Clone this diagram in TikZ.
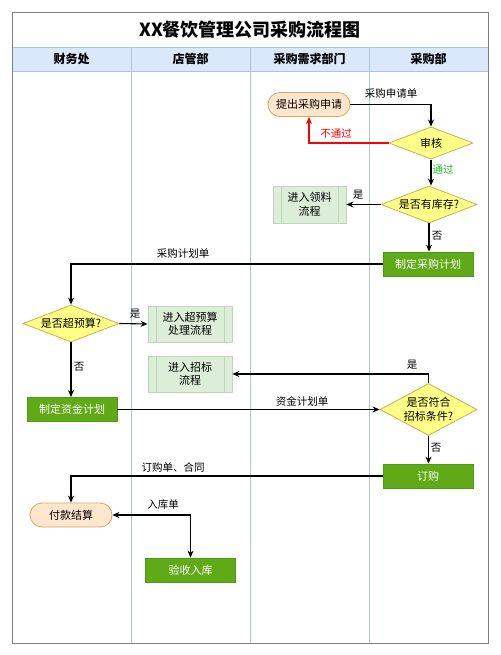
\documentclass[tikz,border=0pt]{standalone}
\usepackage{fontspec}
\setmainfont{Noto Sans CJK SC}
\usetikzlibrary{shapes.geometric,shapes.misc,arrows.meta}
\definecolor{hdrblue}{HTML}{DAE8FC}
\definecolor{lanegray}{HTML}{B4C2D6}
\definecolor{peachfill}{HTML}{FFE6CC}
\definecolor{peachline}{HTML}{D7A95B}
\definecolor{yelfill}{HTML}{FFFF88}
\definecolor{yelline}{HTML}{C2B54A}
\definecolor{procfill}{HTML}{DCEDD8}
\definecolor{procline}{HTML}{BDD5B8}
\definecolor{taskfill}{HTML}{60A917}
\definecolor{taskline}{HTML}{4F9A14}
\definecolor{passgreen}{HTML}{22BB22}
\begin{document}
\begin{tikzpicture}[x=1pt, y=-1pt, font=\fontsize{10.5}{13}\selectfont,
		every path/.style={line width=1.1pt},
		>={Stealth[length=7pt,width=6pt]},
		terminal/.style={rounded rectangle, fill=peachfill, draw=peachline, line width=0.8pt, minimum width=82pt, minimum height=24pt, inner sep=0pt, font=\fontsize{11}{13.5}\selectfont},
		decision/.style={diamond, fill=yelfill, draw=yelline, line width=0.8pt, inner sep=0pt, align=center, font=\fontsize{11}{13.5}\selectfont},
		task/.style={rectangle, fill=taskfill, draw=taskline, line width=0.8pt, text=white, minimum width=90pt, minimum height=24pt, inner sep=0pt, font=\fontsize{11}{13.5}\selectfont},
		subproc/.style={rectangle, fill=procfill, draw=procline, line width=0.8pt, minimum width=84pt, minimum height=36pt, inner sep=0pt, align=center, font=\fontsize{11}{13.5}\selectfont,
			path picture={
				\draw[procline, line width=0.8pt] ([xshift=8pt]path picture bounding box.north west) -- ([xshift=8pt]path picture bounding box.south west);
				\draw[procline, line width=0.8pt] ([xshift=-8pt]path picture bounding box.north east) -- ([xshift=-8pt]path picture bounding box.south east);}},
		lbl/.style={inner sep=1pt}]
		\useasboundingbox (0, 0) rectangle (500, 655);
		\fill[hdrblue] (12, 47) rectangle (488, 71);
		\draw[lanegray, line width=0.8pt] (12, 47) -- (488, 47);
		\draw[lanegray, line width=0.8pt] (12, 71) -- (488, 71);
		\foreach \lx in {131, 250, 369}
			\draw[lanegray, line width=0.8pt] (\lx, 47) -- (\lx, 643);
		\draw[gray, line width=0.8pt] (12, 12) rectangle (488, 643);
		\node (title) at (250, 29.5) {\fontsize{18}{20}\selectfont\bfseries XX餐饮管理公司采购流程图};
		\node (caiwu) at (71.5, 59) {\fontsize{12}{14}\selectfont\bfseries 财务处};
		\node (dianguan) at (190.5, 59) {\fontsize{12}{14}\selectfont\bfseries 店管部};
		\node (xuqiu) at (309.5, 59) {\fontsize{12}{14}\selectfont\bfseries 采购需求部门};
		\node (caigou) at (428.5, 59) {\fontsize{12}{14}\selectfont\bfseries 采购部};
		
		\node[terminal] (shenqing) at (309, 104.5) {提出采购申请};
		\node[decision, minimum width=84pt, minimum height=27pt] (shenhe) at (431, 143) {审核};
		\draw[->] (shenqing.east) -| (shenhe.north);
		\node[lbl] (sqd) at (391, 94) {采购申请单};
		\draw[->, red] (shenhe.west) -| (shenqing.south);
		\node[lbl, text=red] (butongguo) at (336, 134) {不通过};
		
		\node[decision, aspect=2.6, minimum width=96pt, minimum height=37pt] (kucun) at (429, 204.5) {是否有库存?};
		\draw[->] (shenhe.south) -- (shenhe.south |- kucun.north);
		\node[lbl, text=passgreen] (tongguo) at (443, 169) {通过};
		\node[subproc, minimum width=73pt, minimum height=37pt] (lingliao) at (309.5, 204.5) {进入领料\\流程};
		\draw[->] (kucun.west) -- (lingliao.east);
		\node[lbl] (shi1) at (358, 195) {是};
		
		\node[task] (jihua) at (428, 264) {制定采购计划};
		\draw[->] (kucun.south) -- (kucun.south |- jihua.north);
		\node[lbl] (fou1) at (437, 236) {否};
		
		\node[decision, aspect=2.6, minimum width=96pt, minimum height=37pt] (yusuan) at (71, 323.5) {是否超预算?};
		\draw[->] (jihua.west) -| (yusuan.north);
		\node[lbl] (jhd) at (183, 254) {采购计划单};
		\node[subproc] (chaoyusuan) at (190, 324) {进入超预算\\处理流程};
		\draw[->] (yusuan.east) -- (chaoyusuan.west);
		\node[lbl] (shi2) at (135, 314) {是};
		\node[subproc] (zhaobiao) at (190, 374) {进入招标\\流程};
		
		\node[task] (zijin) at (72, 409.5) {制定资金计划};
		\draw[->] (yusuan.south) -- (yusuan.south |- zijin.north);
		\node[lbl] (fou2) at (79, 367) {否};
		
		\node[decision, aspect=1.87, minimum width=97pt, minimum height=52pt] (tiaojian) at (428.5, 409.5) {是否符合\\招标条件?};
		\draw[->] (zijin.east) -- (tiaojian.west);
		\node[lbl] (zjd) at (302, 401) {资金计划单};
		\draw[->] (tiaojian.north) |- (zhaobiao.east);
		\node[lbl] (shi3) at (412, 365) {是};
		
		\node[task] (dinggou) at (428, 476) {订购};
		\draw[->] (tiaojian.south) -- (tiaojian.south |- dinggou.north);
		\node[lbl] (fou3) at (436, 448) {否};
		
		\node[terminal] (fukuan) at (71, 515) {付款结算};
		\draw[->] (dinggou.west) -| (fukuan.north);
		\node[lbl] (ht) at (173, 467) {订购单、合同};
		\node[task] (yanshou) at (190.5, 570) {验收入库};
		\draw[<->] (fukuan.east) -| (yanshou.north);
		\node[lbl] (rkd) at (163, 505) {入库单};
	\end{tikzpicture}
\end{document}
